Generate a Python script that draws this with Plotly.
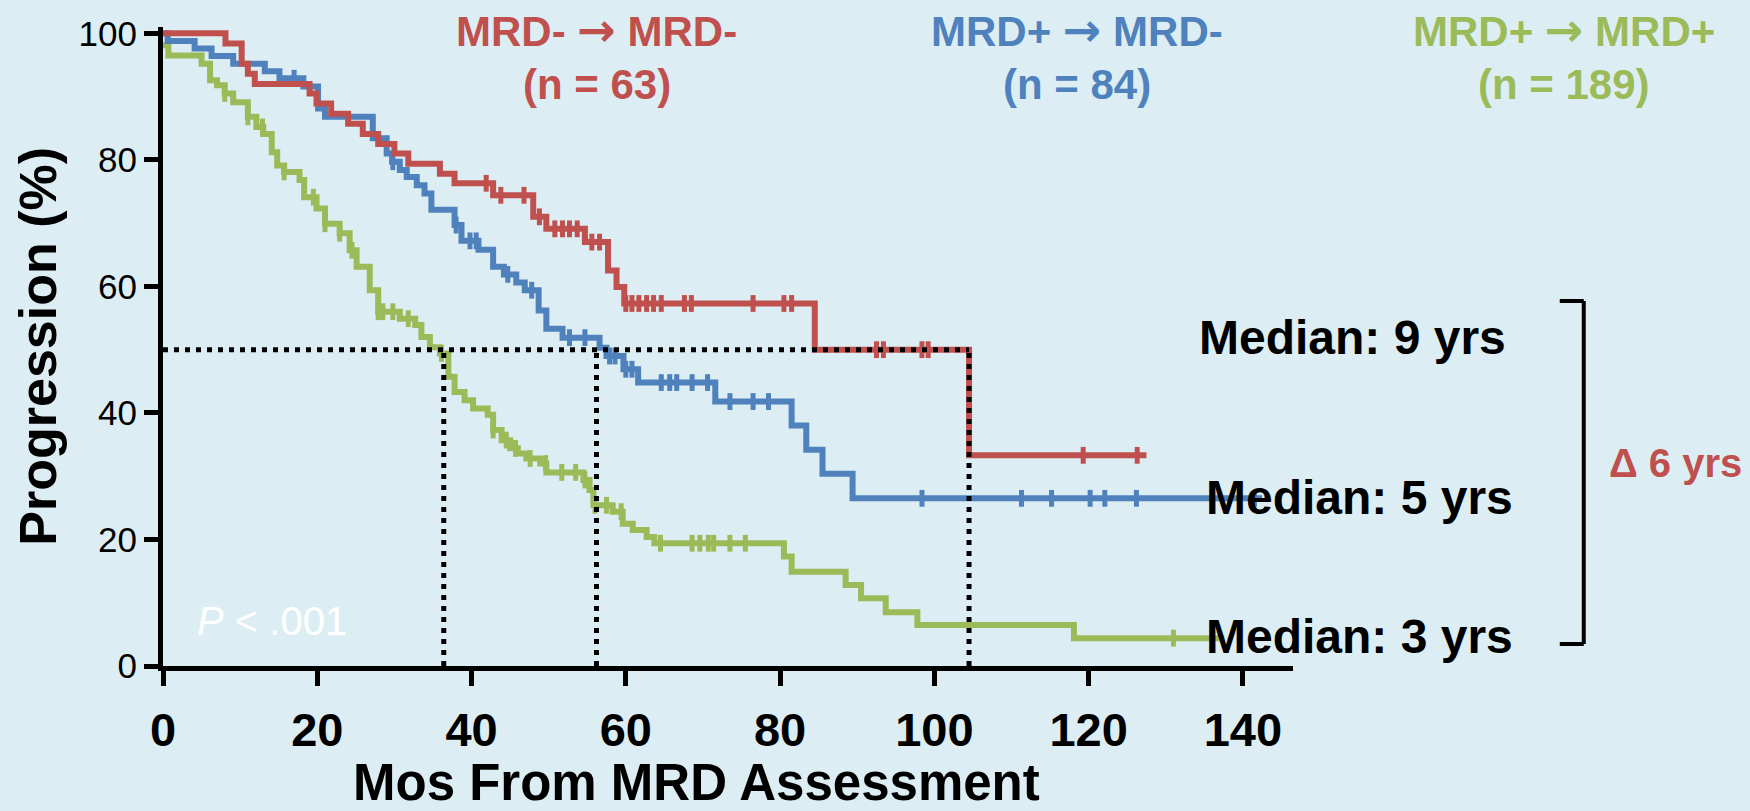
import numpy as np
import plotly.graph_objects as go

# ---------------- data ----------------
x_ticks = [0, 20, 40, 60, 80, 100, 120, 140]
y_ticks = [0, 20, 40, 60, 80, 100]

# MRD- -> MRD-  (n = 63): step times (months) and progression-free % after each step
red_t = [0, 8.1, 10.2, 11.0, 11.9, 19.0, 19.9, 21.8, 24.0, 25.9, 27.9, 30.0, 31.8,
         35.9, 37.8, 42.8, 48.0, 49.7, 54.7, 57.7, 58.8, 59.8, 84.5, 104.5]
red_v = [100, 98.4, 95.2, 93.6, 92.0, 90.5, 88.9, 87.3, 85.7, 84.1, 82.5, 81.0, 79.4,
         77.8, 76.3, 74.4, 71.0, 69.1, 67.0, 62.5, 59.9, 57.3, 50.0, 33.3]
red_end = 127.5
red_cens = [41.9, 43.8, 46.8, 48.8, 50.8, 51.8, 52.7, 53.7, 55.6, 56.6, 60.0, 60.8,
            61.7, 62.7, 63.6, 64.6, 67.6, 68.5, 76.5, 80.5, 81.5, 92.5, 93.4, 98.4,
            99.2, 119.3, 126.3]

# MRD+ -> MRD-  (n = 84)
blue_t = [0, 0.6, 4.1, 6.3, 9.1, 13.2, 15.1, 18.2, 20.1, 21.0, 27.2, 29.0, 29.7,
          30.7, 31.6, 32.9, 33.9, 34.8, 37.8, 38.7, 40.9, 42.8, 44.2, 45.8, 46.9,
          48.7, 49.7, 51.8, 56.6, 57.5, 59.7, 61.6, 71.6, 81.5, 83.4, 85.5, 89.4]
blue_v = [100, 98.8, 97.6, 96.4, 95.2, 94.0, 92.9, 91.6, 88.1, 86.8, 83.4, 81.0, 79.7,
          78.4, 77.3, 76.0, 74.7, 72.1, 69.7, 67.2, 65.8, 63.1, 61.9, 60.6, 59.4,
          56.2, 53.3, 51.9, 50.3, 49.0, 46.9, 44.8, 41.8, 38.0, 34.2, 30.4, 26.5]
blue_end = 142.5
blue_cens = [17.0, 29.8, 38.0, 39.8, 40.6, 44.7, 47.8, 52.7, 54.7, 57.9, 58.6, 60.0,
             60.8, 64.6, 65.7, 66.6, 68.6, 70.6, 73.5, 76.5, 78.5, 98.4, 111.3, 115.2,
             120.2, 122.1, 126.2, 141.5]

# MRD+ -> MRD+  (n = 189)
green_t = [0, 0.7, 5.0, 6.1, 7.0, 8.0, 9.1, 11.0, 12.1, 13.0, 14.1, 14.8, 15.7, 17.7,
           18.3, 19.9, 21.0, 22.9, 24.2, 25.1, 26.8, 27.9, 30.7, 32.7, 33.5, 34.6,
           35.9, 37.0, 37.8, 39.1, 40.2, 42.1, 42.8, 43.9, 45.0, 46.0, 47.1, 48.9,
           49.7, 54.5, 55.3, 55.8, 58.3, 59.6, 60.9, 62.7, 63.7, 80.5, 81.5, 88.5,
           90.5, 93.7, 97.8, 118.1]
green_v = [98.1, 96.5, 95.2, 92.6, 91.8, 90.5, 89.1, 86.8, 85.2, 84.1, 81.2, 79.1, 78.1,
           76.8, 74.1, 72.3, 69.9, 68.4, 65.7, 63.1, 59.4, 56.0, 54.9, 53.9, 52.0,
           50.4, 49.4, 45.7, 43.3, 42.0, 40.7, 39.7, 37.3, 35.7, 34.4, 33.6, 32.8,
           32.0, 30.6, 29.4, 27.8, 25.4, 24.4, 22.5, 21.5, 20.4, 19.4, 17.3, 14.9,
           12.8, 10.7, 8.5, 6.5, 4.4]
green_end = 137.5
green_cens = [8.0, 11.0, 12.9, 15.7, 19.5, 21.0, 22.9, 24.5, 27.9, 28.5, 29.8, 31.8,
              36.1, 42.8, 44.5, 45.7, 47.6, 49.6, 51.7, 53.5, 54.7, 56.0, 57.5, 59.4,
              64.5, 68.6, 69.6, 70.7, 71.4, 73.5, 75.5, 131.0]

median_t = [36.4, 56.2, 104.5]   # green, blue, red medians (months)
median_level = 50

group_first = ["MRD-", "MRD+", "MRD+"]
group_second = ["MRD-", "MRD-", "MRD+"]
group_n = ["(n = 63)", "(n = 84)", "(n = 189)"]
median_labels = ["Median: 9 yrs", "Median: 5 yrs", "Median: 3 yrs"]
delta_label = "\u0394 6 yrs"
p_label = "<i>P</i> < .001"

# ---------------- style ----------------
RED, BLUE, GREEN = "#C0504D", "#4F81BD", "#9BBB59"
BG = "#DCEEF4"
FONT = "Liberation Sans, Arial, Helvetica, sans-serif"

W, H = 1750, 811
XMAX, YMAX = 146.5, 101
PL, PR = 163.3, 163.3 + 146.5 * 7.713
PB = 666.0
PT = PB - YMAX * 6.327
PW, PH = PR - PL, PB - PT


def px(x):
    return (x - PL) / PW


def py(y):
    return 1 - (y - PT) / PH


def step_value(ts, vs, t):
    i = np.searchsorted(np.asarray(ts), t, side="right") - 1
    return vs[max(i, 0)]


fig = go.Figure()

for ts, vs, end, cens, col in [
    (green_t, green_v, green_end, green_cens, GREEN),
    (blue_t, blue_v, blue_end, blue_cens, BLUE),
    (red_t, red_v, red_end, red_cens, RED),
]:
    fig.add_trace(go.Scatter(
        x=list(ts) + [end], y=list(vs) + [vs[-1]], mode="lines",
        line=dict(color=col, width=6, shape="hv"), hoverinfo="skip"))
    fig.add_trace(go.Scatter(
        x=cens, y=[step_value(ts, vs, c) for c in cens], mode="markers",
        marker=dict(symbol="line-ns", size=12, line=dict(color=col, width=5)),
        hoverinfo="skip"))

# dotted median guides
dx = [0, max(median_t), None]
dy = [median_level, median_level, None]
for m in median_t:
    dx += [m, m, None]
    dy += [0, median_level, None]
fig.add_trace(go.Scatter(x=dx, y=dy, mode="lines",
                         line=dict(color="black", width=5, dash="5px,6px"),
                         hoverinfo="skip"))

ann = []
ARROW = '<span style="font-family:DejaVu Sans;font-size:46px">\u2192</span>'
# group titles
for a1, a2, n, col, cx in zip(group_first, group_second, group_n,
                              [RED, BLUE, GREEN], [597, 1077, 1564]):
    ann.append(dict(x=px(cx), y=py(30), text=f"<b>{a1} {ARROW} {a2}</b>",
                    font=dict(size=42, color=col, family=FONT)))
    ann.append(dict(x=px(cx), y=py(84), text=f"<b>{n}</b>",
                    font=dict(size=42, color=col, family=FONT)))
# median labels
for lab, xx, yy in zip(median_labels, [1197, 1204, 1204], [337, 497, 636]):
    ann.append(dict(x=px(xx), y=py(yy), text=f"<b>{lab}</b>", xanchor="left",
                    font=dict(size=48, color="black", family=FONT)))
ann.append(dict(x=px(1607), y=py(463), text=f"<b>{delta_label}</b>", xanchor="left",
                font=dict(size=40, color=RED, family=FONT)))
ann.append(dict(x=px(195), y=py(621), text=p_label, xanchor="left",
                font=dict(size=40, color="white", family=FONT)))
# axis titles
ann.append(dict(x=px(697), y=py(783), text="<b>Mos From MRD Assessment</b>",
                font=dict(size=51, color="black", family=FONT)))
ann.append(dict(x=px(38), y=py(346), text="<b>Progression (%)</b>", textangle=-90,
                font=dict(size=52, color="black", family=FONT)))
for a in ann:
    a.update(xref="paper", yref="paper", showarrow=False)
    a.setdefault("xanchor", "center")
    a.setdefault("yanchor", "middle")

shapes = [
    dict(type="line", x0=px(1584), x1=px(1584), y0=py(301), y1=py(644)),
    dict(type="line", x0=px(1560), x1=px(1584), y0=py(301), y1=py(301)),
    dict(type="line", x0=px(1560), x1=px(1584), y0=py(644), y1=py(644)),
]
for s in shapes:
    s.update(xref="paper", yref="paper", line=dict(color="black", width=4))

fig.update_layout(
    width=W, height=H, autosize=False,
    margin=dict(l=PL, r=W - PR, t=PT, b=H - PB, pad=0),
    paper_bgcolor=BG, plot_bgcolor=BG, showlegend=False,
    annotations=ann, shapes=shapes,
    xaxis=dict(range=[0, XMAX], tickvals=x_ticks, showgrid=False, zeroline=False,
               showline=True, linecolor="black", linewidth=5,
               ticks="outside", ticklen=15, tickwidth=5, tickcolor="black",
               tickfont=dict(size=47, color="black", family=FONT, weight="bold"),
               ticklabelstandoff=4),
    yaxis=dict(range=[0, YMAX], tickvals=y_ticks, showgrid=False, zeroline=False,
               showline=True, linecolor="black", linewidth=5,
               ticks="outside", ticklen=14, tickwidth=5, tickcolor="black",
               tickfont=dict(size=35, color="black", family=FONT)),
)

fig.write_html("out.html", config={"displayModeBar": False},
               post_script="document.body.style.margin='0';")
